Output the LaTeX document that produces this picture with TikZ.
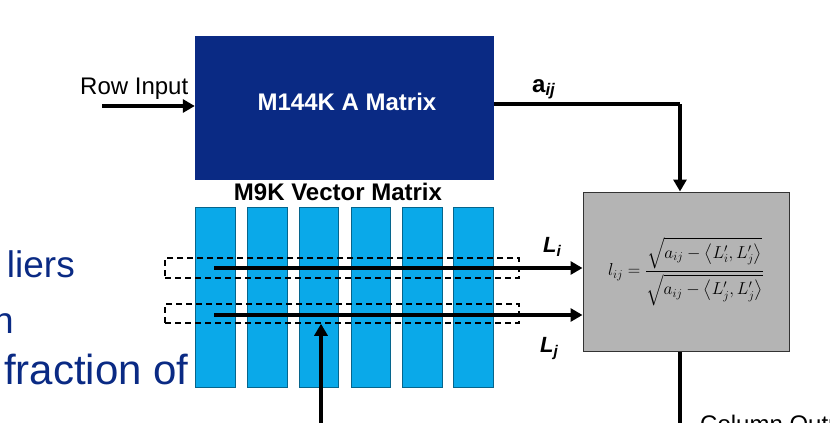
\documentclass[tikz,border=0pt]{standalone}
\usepackage{fontspec}
\setmainfont{Liberation Sans}
\usepackage{amsmath}
\usetikzlibrary{arrows.meta}
\definecolor{navy}{HTML}{0A2A84}
\definecolor{cyanblue}{HTML}{0AA9E9}
\definecolor{boxgray}{HTML}{B4B4B4}
\begin{document}
\begin{tikzpicture}[x=1pt,y=-1pt,
  conn/.style={line width=4pt, -{Triangle[length=12pt,width=13pt]}},
  plainline/.style={line width=4pt},
  colbar/.style={draw=cyanblue!60!black, line width=0.6pt, fill=cyanblue, minimum width=39.5pt, minimum height=180pt, inner sep=0},
  dbox/.style={draw=black, dash pattern=on 6pt off 4pt, line width=1.5pt, minimum width=354pt, inner sep=0},
  lbl/.style={font=\fontsize{24}{28}\selectfont, inner sep=0},
  slidetxt/.style={text=navy, inner sep=0}
]
\useasboundingbox (0,0) rectangle (830,423);

% slide text fragments
\node[slidetxt, font=\fontsize{37}{40}\selectfont, anchor=base east] (s1) at (75,277) {liers};
\node[slidetxt, font=\fontsize{37}{40}\selectfont, anchor=base east] (s2) at (14,333) {n};
\node[slidetxt, font=\fontsize{42}{46}\selectfont, anchor=base west] (s3) at (4,384) {fraction of};

% A matrix
\node[fill=navy, minimum width=299pt, minimum height=144pt, inner sep=0] (amat) at (344.5,108) {};
\node[lbl, font=\fontsize{24}{28}\selectfont\bfseries, text=white, anchor=base] (amatlbl) at (347,110) {M144K A Matrix};

% Row input
\node[lbl, anchor=base west] (rowlbl) at (80,94) {Row Input};
\coordinate (rowstart) at (102,106);
\draw[conn] (rowstart) -- (rowstart -| amat.west);

% vector matrix
\node[lbl, font=\fontsize{24}{28}\selectfont\bfseries, anchor=base] (vtitle) at (338,200) {M9K Vector Matrix};
\node[colbar] (c1) at (215.5,297) {};
\node[colbar] (c2) at (267.5,297) {};
\node[colbar] (c3) at (319,297) {};
\node[colbar] (c4) at (371,297) {};
\node[colbar] (c5) at (422.5,297) {};
\node[colbar] (c6) at (473.5,297) {};

\node[dbox, minimum height=20pt] (d1) at (342,268) {};
\node[dbox, minimum height=19pt] (d2) at (342,313.5) {};

% L box
\node[draw=black!80, line width=1pt, fill=boxgray, minimum width=206pt, minimum height=159pt, inner sep=0] (lbox) at (686,271.5) {};
\node[font=\fontsize{17}{20}\selectfont, inner sep=0] (formula) at (lbox.center)
  {$\displaystyle l_{ij} = \frac{\sqrt{a_{ij} - \left\langle L'_i, L'_j \right\rangle}}{\sqrt{a_{ij} - \left\langle L'_j, L'_j \right\rangle}}$};

% a_ij connector
\coordinate (corner) at (680,104);
\draw[plainline] (amat.east |- corner) -- (corner);
\draw[conn] (corner) -- (corner |- lbox.north);
\node[lbl, font=\fontsize{24}{28}\selectfont\bfseries, anchor=base west] (alabel) at (532,92) {a\textsubscript{\textit{ij}}};

% L arrows
\coordinate (listart) at (214,268);
\coordinate (ljstart) at (214,315);
\draw[conn] (listart) -- (listart -| lbox.west);
\draw[conn] (ljstart) -- (ljstart -| lbox.west);
\node[lbl, font=\fontsize{22}{26}\selectfont\bfseries\itshape, anchor=base west] (lilabel) at (543,252) {L\textsubscript{i}};
\node[lbl, font=\fontsize{22}{26}\selectfont\bfseries\itshape, anchor=base west] (ljlabel) at (540,352) {L\textsubscript{j}};

% up arrow
\coordinate (upstart) at (321,430);
\draw[conn] (upstart) -- (upstart |- d2.south);

% column output
\coordinate (outend) at (680,430);
\draw[plainline] (outend |- lbox.south) -- (outend);
\node[lbl, anchor=base west] (collbl) at (700,432) {Column Output};
\end{tikzpicture}
\end{document}
